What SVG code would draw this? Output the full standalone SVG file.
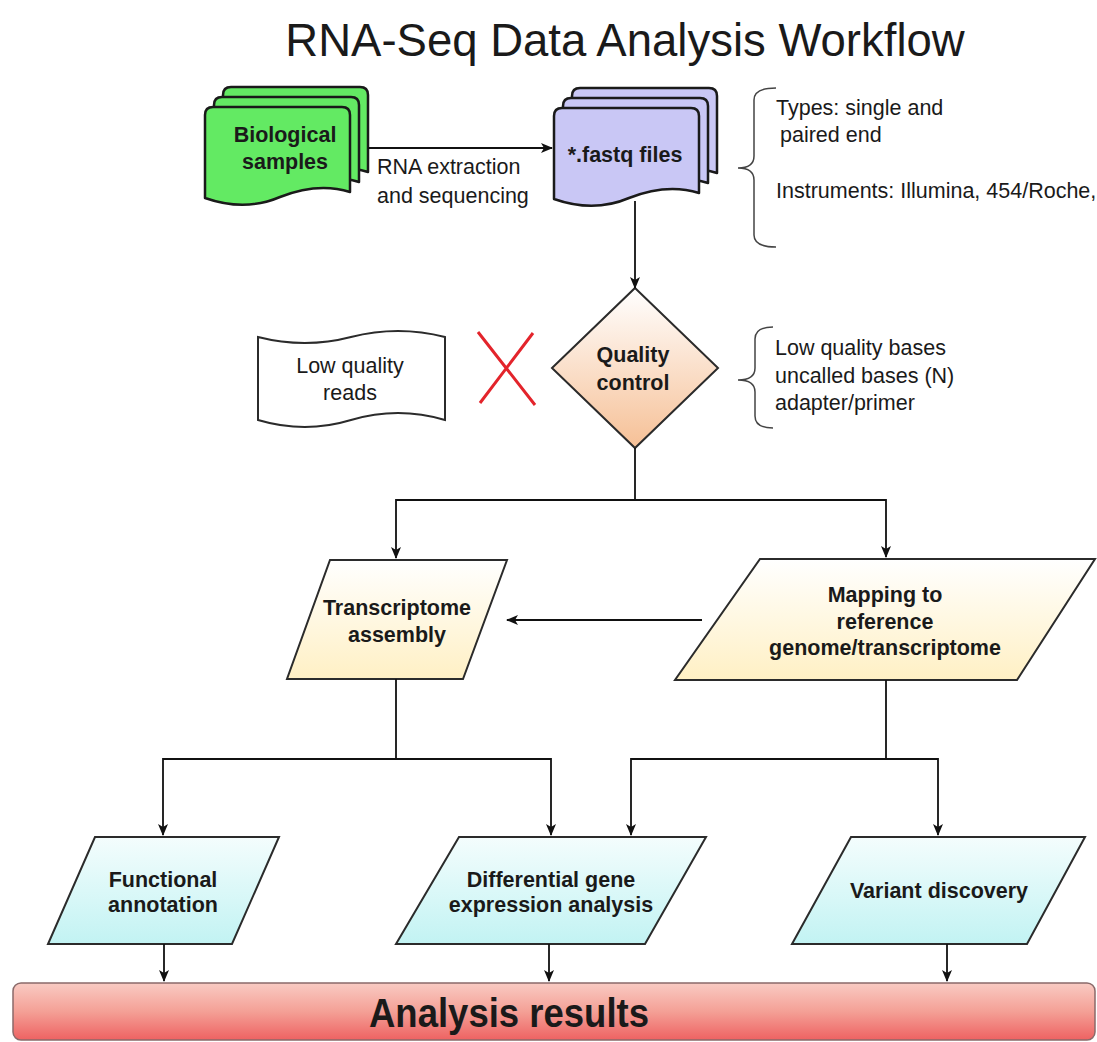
<svg xmlns="http://www.w3.org/2000/svg" width="1097" height="1042" viewBox="0 0 1097 1042">
<style>
text{font-family:"Liberation Sans",Arial,Helvetica,sans-serif;fill:#1a1a1a}
.t{font-size:21.5px;text-anchor:middle}
.b{font-size:21.5px;font-weight:bold;text-anchor:middle}
.n{font-size:21.5px}
.doc{stroke:#1a1a1a;stroke-width:2.5;stroke-linejoin:round}
.node{stroke:#2b2b2b;stroke-width:2;stroke-linejoin:miter}
.con{fill:none;stroke:#111;stroke-width:1.8}
.brace{fill:none;stroke:#444;stroke-width:1.5}
</style>
<defs>
<path id="docshape" d="M8,0 L137,0 Q145,0 145,8 L145,85 Q113,75 75,90 Q40,105 0,91 L0,8 Q0,0 8,0 Z"/>
<marker id="arr" viewBox="0 0 12 10" refX="11" refY="5" markerWidth="12" markerHeight="10" markerUnits="userSpaceOnUse" orient="auto">
<path d="M0,0 L12,5 L0,10 L3,5 Z" fill="#111"/>
</marker>
<linearGradient id="gQc" x1="0" y1="0" x2="0" y2="1"><stop offset="0" stop-color="#ffffff"/><stop offset="1" stop-color="#f6c096"/></linearGradient>
<linearGradient id="gY" x1="0" y1="0" x2="0" y2="1"><stop offset="0" stop-color="#ffffff"/><stop offset="1" stop-color="#fff0c4"/></linearGradient>
<linearGradient id="gC" x1="0" y1="0" x2="0" y2="1"><stop offset="0" stop-color="#f4fdfd"/><stop offset="1" stop-color="#c2f3f3"/></linearGradient>
<linearGradient id="gR" x1="0" y1="0" x2="0" y2="1"><stop offset="0" stop-color="#f9cbc3"/><stop offset="0.5" stop-color="#f4a096"/><stop offset="1" stop-color="#ee6262"/></linearGradient>
</defs>
<rect width="1097" height="1042" fill="#ffffff"/>
<g id="title"><text x="625" y="56" style="font-size:45.5px;text-anchor:middle">RNA-Seq Data Analysis Workflow</text></g>
<g id="bio-samples">
<use href="#docshape" transform="translate(223,87)" class="doc" fill="#63ea63"/>
<use href="#docshape" transform="translate(214,97)" class="doc" fill="#63ea63"/>
<use href="#docshape" transform="translate(205,107)" class="doc" fill="#63ea63"/>
<text class="b" x="285" y="142">Biological</text>
<text class="b" x="285" y="169">samples</text>
</g>
<g id="fastq">
<use href="#docshape" transform="translate(572,88)" class="doc" fill="#c9c7f5"/>
<use href="#docshape" transform="translate(563,98)" class="doc" fill="#c9c7f5"/>
<use href="#docshape" transform="translate(554,108)" class="doc" fill="#c9c7f5"/>
<text class="b" x="625" y="162">*.fastq files</text>
</g>
<g id="fastq-note">
<path class="brace" d="M776,88 Q754,88 754,100 L754,156 Q754,168 738,168 Q754,168 754,180 L754,235 Q754,247 776,247"/>
<text class="n" x="776" y="115">Types: single and</text>
<text class="n" x="780" y="142">paired end</text>
<text class="n" x="776" y="198">Instruments: Illumina, 454/Roche,</text>
</g>
<g id="low-quality-reads">
<path class="node" fill="#ffffff" d="M258,337 Q305,349 351,337 Q398,325 445,337 L445,420 Q398,406 351,420 Q305,434 258,420 Z"/>
<text class="t" x="350" y="373">Low quality</text>
<text class="t" x="350" y="400">reads</text>
</g>
<g id="reject-mark">
<path d="M478,332 L535,405 M533,333 L480,403" stroke="#e3242b" stroke-width="3" fill="none"/>
</g>
<g id="quality-control">
<path class="node" fill="url(#gQc)" stroke="#555" d="M635,288 L718,368 L635,448 L552,368 Z"/>
<text class="b" x="633" y="362">Quality</text>
<text class="b" x="633" y="390">control</text>
</g>
<g id="qc-note">
<path class="brace" d="M773,327 Q755,327 755,339 L755,368 Q755,380 738,380 Q755,380 755,392 L755,416 Q755,428 773,428"/>
<text class="n" x="775" y="355">Low quality bases</text>
<text class="n" x="775" y="383">uncalled bases (N)</text>
<text class="n" x="775" y="410">adapter/primer</text>
</g>
<g id="transcriptome-assembly">
<path class="node" fill="url(#gY)" d="M330,560 L507,560 L463,679 L287,679 Z"/>
<text class="b" x="397" y="615">Transcriptome</text>
<text class="b" x="397" y="642">assembly</text>
</g>
<g id="mapping">
<path class="node" fill="url(#gY)" d="M760,559 L1095,559 L1017,680 L675,680 Z"/>
<text class="b" x="885" y="602">Mapping to</text>
<text class="b" x="885" y="629">reference</text>
<text class="b" x="885" y="655">genome/transcriptome</text>
</g>
<g id="functional-annotation">
<path class="node" fill="url(#gC)" d="M95,837 L279,837 L232,944 L48,944 Z"/>
<text class="b" x="163" y="887">Functional</text>
<text class="b" x="163" y="912">annotation</text>
</g>
<g id="differential-expression">
<path class="node" fill="url(#gC)" d="M459,837 L706,837 L645,944 L396,944 Z"/>
<text class="b" x="551" y="887">Differential gene</text>
<text class="b" x="551" y="912">expression analysis</text>
</g>
<g id="variant-discovery">
<path class="node" fill="url(#gC)" d="M851,837 L1085,837 L1027,944 L792,944 Z"/>
<text class="b" x="939" y="898">Variant discovery</text>
</g>
<g id="analysis-results">
<rect x="13" y="983" width="1082" height="57" rx="8" fill="url(#gR)" stroke="#8a6a6a" stroke-width="1.5"/>
<text x="509" y="1027" textLength="280" lengthAdjust="spacingAndGlyphs" style="font-size:40px;font-weight:bold;text-anchor:middle">Analysis results</text>
</g>
<g id="connectors">
<path class="con" d="M368,148 L552,148" marker-end="url(#arr)"/>
<path class="con" d="M635,201 L635,288" marker-end="url(#arr)"/>
<path class="con" d="M635,448 L635,500 L396,500 L396,558" marker-end="url(#arr)"/>
<path class="con" d="M635,500 L886,500 L886,557" marker-end="url(#arr)"/>
<path class="con" d="M702,620 L507,620" marker-end="url(#arr)"/>
<path class="con" d="M396,679 L396,759 L163,759 L163,835" marker-end="url(#arr)"/>
<path class="con" d="M396,759 L551,759 L551,835" marker-end="url(#arr)"/>
<path class="con" d="M886,680 L886,759 L631,759 L631,835" marker-end="url(#arr)"/>
<path class="con" d="M886,759 L938,759 L938,835" marker-end="url(#arr)"/>
<path class="con" d="M164,944 L164,981" marker-end="url(#arr)"/>
<path class="con" d="M549,944 L549,981" marker-end="url(#arr)"/>
<path class="con" d="M947,944 L947,981" marker-end="url(#arr)"/>
</g>
<g id="edge-labels">
<text class="n" x="377" y="174">RNA extraction</text>
<text class="n" x="377" y="203">and sequencing</text>
</g>
</svg>
